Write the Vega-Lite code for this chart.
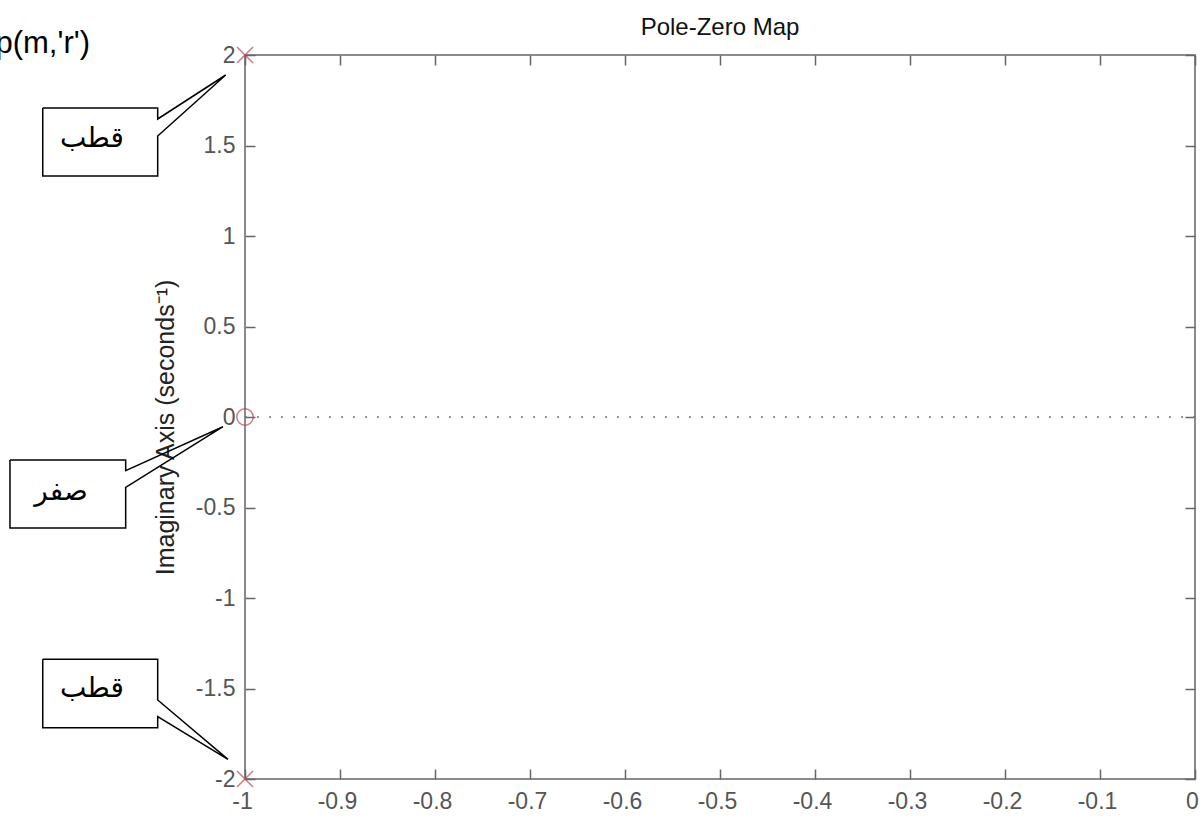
{
  "$schema": "https://vega.github.io/schema/vega-lite/v6.json",
  "width": 950,
  "height": 724,
  "autosize": {"type": "none"},
  "padding": {"left": 245, "top": 55, "right": 8, "bottom": 37},
  "background": "white",
  "title": {"text": "Pole-Zero Map", "font": "Liberation Sans", "fontSize": 24, "fontWeight": "normal", "color": "#111", "offset": -12, "anchor": "middle"},
  "config": {"view": {"stroke": "#666", "strokeWidth": 1.5}},
  "datasets": {
    "axisline": [{"re": -1, "re2": 0, "im": 0}],
    "poles": [{"re": -1, "im": 2}, {"re": -1, "im": -2}],
    "zeros": [{"re": -1, "im": 0}],
    "callouts": [
      {"id": "p1", "k": 0, "re": -1.2129, "im": 1.7072},
      {"id": "p1", "k": 1, "re": -1.0919, "im": 1.7072},
      {"id": "p1", "k": 2, "re": -1.0919, "im": 1.6464},
      {"id": "p1", "k": 3, "re": -1.0203, "im": 1.8895},
      {"id": "p1", "k": 4, "re": -1.0919, "im": 1.5525},
      {"id": "p1", "k": 5, "re": -1.0919, "im": 1.3315},
      {"id": "p1", "k": 6, "re": -1.2129, "im": 1.3315},
      {"id": "p1", "k": 7, "re": -1.2129, "im": 1.7072},
      {"id": "z1", "k": 0, "re": -1.2474, "im": -0.2376},
      {"id": "z1", "k": 1, "re": -1.1256, "im": -0.2376},
      {"id": "z1", "k": 2, "re": -1.1256, "im": -0.2967},
      {"id": "z1", "k": 3, "re": -1.0232, "im": -0.0536},
      {"id": "z1", "k": 4, "re": -1.1256, "im": -0.3884},
      {"id": "z1", "k": 5, "re": -1.1256, "im": -0.6133},
      {"id": "z1", "k": 6, "re": -1.2474, "im": -0.6133},
      {"id": "z1", "k": 7, "re": -1.2474, "im": -0.2376},
      {"id": "p2", "k": 0, "re": -1.2129, "im": -1.3387},
      {"id": "p2", "k": 1, "re": -1.0919, "im": -1.3387},
      {"id": "p2", "k": 2, "re": -1.0919, "im": -1.5635},
      {"id": "p2", "k": 3, "re": -1.0179, "im": -1.8912},
      {"id": "p2", "k": 4, "re": -1.0919, "im": -1.6558},
      {"id": "p2", "k": 5, "re": -1.0919, "im": -1.7166},
      {"id": "p2", "k": 6, "re": -1.2129, "im": -1.7166},
      {"id": "p2", "k": 7, "re": -1.2129, "im": -1.3387}
    ],
    "arabic": [
      {"label": "قطب", "re": -1.1611, "im": 1.4917},
      {"label": "صفر", "re": -1.1937, "im": -0.4586},
      {"label": "قطب", "re": -1.1611, "im": -1.5453}
    ],
    "cmd": [{"label": "pzmap(m,'r')", "re": -1.1632, "im": 2.011}]
  },
  "resolve": {"scale": {"x": "shared", "y": "shared"}, "axis": {"x": "independent", "y": "independent"}},
  "layer": [
    {
      "data": {"name": "axisline"},
      "mark": {"type": "rule", "color": "#777", "strokeWidth": 1.5, "strokeDash": [2, 10]},
      "encoding": {
        "x": {"field": "re", "type": "quantitative", "scale": {"domain": [-1, 0], "nice": false, "zero": false},
          "axis": {"orient": "bottom", "title": null, "values": [-1, -0.9, -0.8, -0.7, -0.6, -0.5, -0.4, -0.3, -0.2, -0.1, 0],
            "labelExpr": "'' + datum.value", "tickSize": -10, "tickColor": "#666", "tickWidth": 1.5, "domain": false, "grid": false,
            "labelPadding": 21, "labelOffset": -3, "labelFont": "Liberation Sans", "labelFontSize": 23, "labelColor": "#555", "labelFlush": false, "labelOverlap": false}},
        "x2": {"field": "re2"},
        "y": {"field": "im", "type": "quantitative", "scale": {"domain": [-2, 2], "nice": false, "zero": false},
          "axis": {"orient": "left", "title": "Imaginary Axis (seconds⁻¹)", "values": [-2, -1.5, -1, -0.5, 0, 0.5, 1, 1.5, 2],
            "labelExpr": "'' + datum.value", "tickSize": -10, "tickColor": "#666", "tickWidth": 1.5, "domain": false, "grid": false,
            "labelPadding": 20, "labelFont": "Liberation Sans", "labelFontSize": 23, "labelColor": "#555", "labelFlush": false, "labelOverlap": false,
            "titleFont": "Liberation Sans", "titleFontSize": 25, "titleFontWeight": "normal", "titleColor": "#222",
            "titleX": -72, "titleY": 372, "titleAngle": 270, "titleBaseline": "alphabetic", "titleAlign": "center"}}
      }
    },
    {
      "data": {"name": "poles"},
      "mark": {"type": "point", "shape": "M-1,-1L1,1M-1,1L1,-1", "size": 256, "filled": false, "color": "#c0404e", "strokeWidth": 1.5},
      "encoding": {
        "x": {"field": "re", "type": "quantitative", "scale": {"domain": [-1, 0], "nice": false, "zero": false},
          "axis": {"orient": "top", "title": null, "values": [-1, -0.9, -0.8, -0.7, -0.6, -0.5, -0.4, -0.3, -0.2, -0.1, 0],
            "labels": false, "tickSize": -10, "tickColor": "#666", "tickWidth": 1.5, "domain": false, "grid": false}},
        "y": {"field": "im", "type": "quantitative", "scale": {"domain": [-2, 2], "nice": false, "zero": false},
          "axis": {"orient": "right", "title": null, "values": [-2, -1.5, -1, -0.5, 0, 0.5, 1, 1.5, 2],
            "labels": false, "tickSize": -10, "tickColor": "#666", "tickWidth": 1.5, "domain": false, "grid": false}}
      }
    },
    {
      "data": {"name": "zeros"},
      "mark": {"type": "point", "shape": "circle", "size": 270, "filled": false, "color": "#c0404e", "strokeWidth": 1.5},
      "encoding": {
        "x": {"field": "re", "type": "quantitative", "scale": {"domain": [-1, 0], "nice": false, "zero": false}, "axis": null},
        "y": {"field": "im", "type": "quantitative", "scale": {"domain": [-2, 2], "nice": false, "zero": false}, "axis": null}
      }
    },
    {
      "data": {"name": "callouts"},
      "mark": {"type": "line", "color": "#000", "strokeWidth": 1.5, "clip": false},
      "encoding": {
        "x": {"field": "re", "type": "quantitative", "scale": {"domain": [-1, 0], "nice": false, "zero": false}, "axis": null},
        "y": {"field": "im", "type": "quantitative", "scale": {"domain": [-2, 2], "nice": false, "zero": false}, "axis": null},
        "detail": {"field": "id"},
        "order": {"field": "k", "type": "quantitative"}
      }
    },
    {
      "data": {"name": "arabic"},
      "mark": {"type": "text", "font": "DejaVu Sans", "fontSize": 28, "color": "#000", "align": "center", "baseline": "alphabetic"},
      "encoding": {
        "x": {"field": "re", "type": "quantitative", "scale": {"domain": [-1, 0], "nice": false, "zero": false}, "axis": null},
        "y": {"field": "im", "type": "quantitative", "scale": {"domain": [-2, 2], "nice": false, "zero": false}, "axis": null},
        "text": {"field": "label"}
      }
    },
    {
      "data": {"name": "cmd"},
      "mark": {"type": "text", "font": "Liberation Sans", "fontSize": 31, "color": "#000", "align": "right", "baseline": "alphabetic"},
      "encoding": {
        "x": {"field": "re", "type": "quantitative", "scale": {"domain": [-1, 0], "nice": false, "zero": false}, "axis": null},
        "y": {"field": "im", "type": "quantitative", "scale": {"domain": [-2, 2], "nice": false, "zero": false}, "axis": null},
        "text": {"field": "label"}
      }
    }
  ]
}
